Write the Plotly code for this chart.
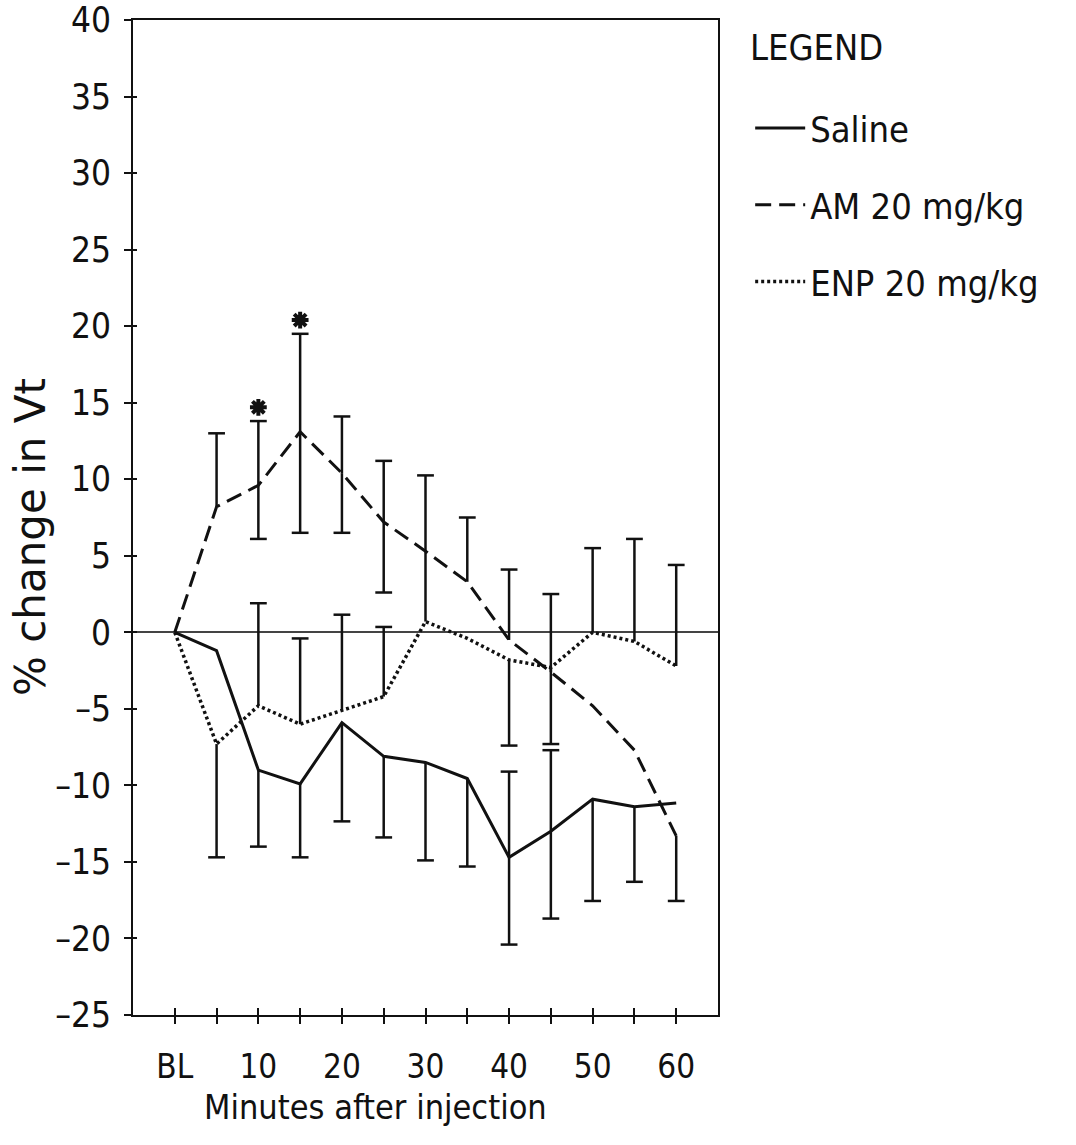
import plotly.graph_objects as go

# ---------------- data ----------------
minutes = [0, 5, 10, 15, 20, 25, 30, 35, 40, 45, 50, 55, 60]
tick_text = ['BL', '', '10', '', '20', '', '30', '', '40', '', '50', '', '60']
y_ticks = [-25, -20, -15, -10, -5, 0, 5, 10, 15, 20, 25, 30, 35, 40]

saline = [0, -1.2, -9.0, -9.9, -5.9, -8.1, -8.5, -9.55, -14.7, -13.0, -10.9, -11.4, -11.15]
am = [0, 8.2, 9.6, 13.1, 10.4, 7.2, 5.3, 3.3, -0.5, -2.6, -4.8, -7.7, -13.3]
enp = [0, -7.3, -4.8, -6.0, -5.1, -4.2, 0.7, -0.4, -1.8, -2.3, 0.0, -0.6, -2.2]

saline_up = [None, None, None, None, None, None, None, None, 5.6, 5.3, None, None, None]
saline_dn = [None, None, 5.0, 4.8, 6.45, 5.3, 6.4, 5.75, 5.7, 5.7, 6.65, 4.9, None]
am_up = [None, 4.8, 4.2, 6.4, 3.7, 4.0, None, 4.2, 4.6, 5.1, None, None, None]
am_dn = [None, None, 3.5, 6.6, 3.9, 4.6, None, None, None, None, None, None, 4.25]
enp_up = [None, None, 6.7, 5.6, 6.25, 4.55, 9.55, None, None, None, 5.5, 6.7, 6.6]
enp_dn = [None, 7.4, None, None, None, None, None, None, 5.6, 5.0, None, None, None]

sig_minutes = [10, 15]

FONT = "DejaVu Sans Condensed, DejaVu Sans, sans-serif"
INK = "#111111"

fig = go.Figure()


def error_traces(x, y, up, dn):
    seg_x, seg_y, cap_x, cap_y = [], [], [], []
    for xi, yi, u, d in zip(x, y, up, dn):
        for e in (u, -d if d is not None else None):
            if e is None:
                continue
            seg_x += [xi, xi, None]
            seg_y += [yi, yi + e, None]
            cap_x.append(xi)
            cap_y.append(yi + e)
    seg = go.Scatter(x=seg_x, y=seg_y, mode='lines', line=dict(color=INK, width=2.5),
                     showlegend=False, hoverinfo='skip')
    cap = go.Scatter(x=cap_x, y=cap_y, mode='markers',
                     marker=dict(symbol='line-ew', size=12, color=INK, line=dict(color=INK, width=2.5)),
                     showlegend=False, hoverinfo='skip')
    return [seg, cap]


for y, u, d in ((saline, saline_up, saline_dn), (am, am_up, am_dn), (enp, enp_up, enp_dn)):
    for tr in error_traces(minutes, y, u, d):
        fig.add_trace(tr)

fig.add_trace(go.Scatter(x=minutes, y=saline, mode='lines', name='Saline',
                         line=dict(color=INK, width=3), legendgroup='a'))
fig.add_trace(go.Scatter(x=minutes, y=am, mode='lines', name='AM 20 mg/kg',
                         line=dict(color=INK, width=3, dash='16px,8px'), legendgroup='b'))
fig.add_trace(go.Scatter(x=minutes, y=enp, mode='lines', name='ENP 20 mg/kg',
                         line=dict(color=INK, width=3.5, dash='3px,3px'), legendgroup='c'))

# significance asterisks above AM bars
sig_y = [am[minutes.index(m)] + am_up[minutes.index(m)] + 0.9 for m in sig_minutes]
fig.add_trace(go.Scatter(x=sig_minutes, y=sig_y, mode='markers', showlegend=False, hoverinfo='skip',
                         marker=dict(symbol='asterisk-open', size=14, color=INK,
                                     line=dict(color=INK, width=4))))

# dummy traces for overlay axes (inside tick marks)
fig.add_trace(go.Scatter(x=[None], y=[None], xaxis='x2', yaxis='y', showlegend=False, hoverinfo='skip'))
fig.add_trace(go.Scatter(x=[None], y=[None], xaxis='x', yaxis='y2', showlegend=False, hoverinfo='skip'))

xr = [-5, 65]
yr = [-25, 40]

fig.update_layout(
    width=1076, height=1145,
    margin=dict(l=133, r=358, t=20, b=130),
    paper_bgcolor='white', plot_bgcolor='white',
    font=dict(family=FONT, color=INK, size=36),
    xaxis=dict(range=xr, tickmode='array', tickvals=minutes, ticktext=tick_text,
               ticks='outside', ticklen=7, tickwidth=2, tickcolor=INK,
               showline=True, linewidth=2, linecolor=INK, mirror=True,
               showgrid=False, zeroline=False, ticklabelstandoff=14, automargin=False,
               tickfont=dict(family=FONT, size=33, color=INK)),
    xaxis2=dict(range=xr, overlaying='x', anchor='y', side='bottom', tickmode='array',
                tickvals=minutes, ticks='inside', ticklen=7, tickwidth=2, tickcolor=INK,
                showticklabels=False, showline=False, showgrid=False, zeroline=False,
                automargin=False),
    yaxis=dict(range=yr, tickmode='array', tickvals=y_ticks,
               ticktext=[str(v).replace('-', '\u2013') for v in y_ticks],
               ticks='outside', ticklen=7, tickwidth=2, tickcolor=INK,
               showline=True, linewidth=2, linecolor=INK, mirror=True,
               showgrid=False, zeroline=True, zerolinecolor='#444444', zerolinewidth=1.5,
               ticklabelstandoff=6, ticklabeloverflow='allow', automargin=False,
               tickfont=dict(family=FONT, size=35, color=INK)),
    yaxis2=dict(range=yr, overlaying='y', anchor='x', side='left', tickmode='array',
                tickvals=y_ticks, ticks='inside', ticklen=4, tickwidth=2, tickcolor=INK,
                showticklabels=False, showline=False, showgrid=False, zeroline=False,
                automargin=False),
    legend=dict(x=1.055, y=0.9216, xanchor='left', yanchor='top',
                font=dict(family=FONT, size=36, color=INK),
                tracegroupgap=27, bgcolor='rgba(0,0,0,0)', itemwidth=50),
    showlegend=True,
    annotations=[
        dict(text='LEGEND', xref='paper', yref='paper', x=1.052, y=0.972,
             xanchor='left', yanchor='middle', showarrow=False,
             font=dict(family=FONT, size=36, color=INK)),
        dict(text='Minutes after injection', xref='paper', yref='paper',
             x=0.414, y=-0.092, xanchor='center', yanchor='middle', showarrow=False,
             font=dict(family=FONT, size=34, color=INK)),
        dict(text='% change in Vt', xref='paper', yref='paper', textangle=-90,
             x=-0.175, y=0.48, xanchor='center', yanchor='middle', showarrow=False,
             font=dict(family='DejaVu Sans, sans-serif', size=42, color=INK)),
    ],
)

fig.write_html('out.html')
